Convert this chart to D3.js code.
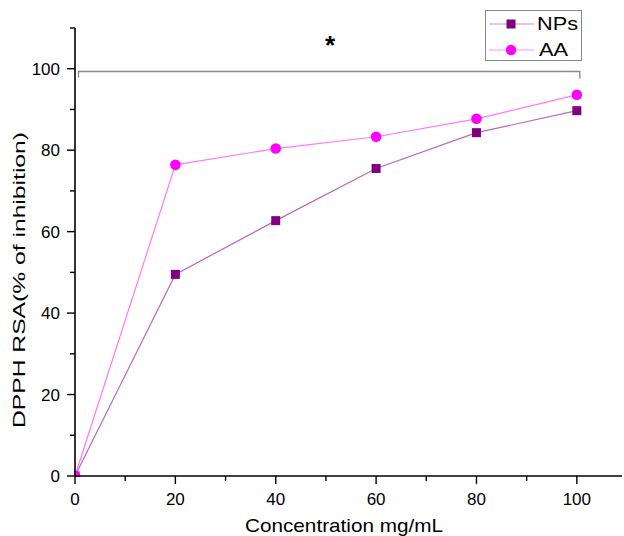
<!doctype html>
<html lang="en">
<head>
<meta charset="utf-8">
<title>DPPH</title>
<style>
  body { margin: 0; background: #fff; }
  svg { font-family: "Liberation Sans", Arial, sans-serif; }
</style>
</head>
<body>
<div id="chart"></div>
<script src="https://cdn.jsdelivr.net/npm/d3@7"></script>
<script>
var conc = [0, 20, 40, 60, 80, 100];
var nps = [0, 49.5, 62.7, 75.5, 84.3, 89.7];
var aa = [0, 76.4, 80.4, 83.3, 87.7, 93.6];
var xTicks = [0, 20, 40, 60, 80, 100];
var yTicks = [0, 20, 40, 60, 80, 100];

(function () {
  var width = 624, height = 536;
  var svg = d3.select("#chart").append("svg")
    .attr("width", width).attr("height", height);

  var x = d3.scaleLinear().domain([0, 109]).range([75, 622]);
  var y = d3.scaleLinear().domain([0, 110]).range([476, 28]);

  svg.append("clipPath").attr("id", "plot")
    .append("rect").attr("x", x(0) - 1).attr("y", 0).attr("width", 560).attr("height", y(0) + 1);

  // axes
  var xAxis = svg.append("g").attr("transform", "translate(0," + y(0) + ")");
  xAxis.selectAll(".major").data(xTicks).enter().append("line")
    .attr("x1", d => x(d)).attr("x2", d => x(d)).attr("y1", 0).attr("y2", 8)
    .attr("stroke", "#000").attr("stroke-width", 1.4);
  xAxis.selectAll(".minor").data(d3.range(10, 110, 20)).enter().append("line")
    .attr("x1", d => x(d)).attr("x2", d => x(d)).attr("y1", 0).attr("y2", 5)
    .attr("stroke", "#000").attr("stroke-width", 1.4);
  xAxis.selectAll("text").data(xTicks).enter().append("text")
    .attr("x", d => x(d)).attr("y", 29).attr("text-anchor", "middle")
    .attr("font-size", 17).text(d => d);

  var yAxis = svg.append("g").attr("transform", "translate(" + x(0) + ",0)");
  yAxis.selectAll(".major").data(yTicks).enter().append("line")
    .attr("y1", d => y(d)).attr("y2", d => y(d)).attr("x1", 0).attr("x2", -8)
    .attr("stroke", "#000").attr("stroke-width", 1.4);
  yAxis.selectAll(".minor").data(d3.range(10, 120, 20)).enter().append("line")
    .attr("y1", d => y(d)).attr("y2", d => y(d)).attr("x1", 0).attr("x2", -5)
    .attr("stroke", "#000").attr("stroke-width", 1.4);
  yAxis.selectAll("text").data(yTicks).enter().append("text")
    .attr("x", -15).attr("y", d => y(d) + 6).attr("text-anchor", "end")
    .attr("font-size", 17).text(d => d);

  svg.append("text").attr("x", 344).attr("y", 532).attr("text-anchor", "middle")
    .attr("font-size", 19).attr("textLength", 198).attr("lengthAdjust", "spacingAndGlyphs")
    .text("Concentration mg/mL");
  svg.append("text").attr("transform", "translate(25,280) rotate(-90)")
    .attr("text-anchor", "middle").attr("font-size", 17)
    .attr("textLength", 296).attr("lengthAdjust", "spacingAndGlyphs")
    .text("DPPH RSA(% of inhibition)");

  // significance bracket
  var by = 71.5;
  svg.append("path")
    .attr("d", "M" + (x(0) + 3.5) + "," + (by + 6) + "V" + by + "H" + (x(100) + 3) + "V" + (by + 7))
    .attr("fill", "none").attr("stroke", "#888").attr("stroke-width", 1.3);
  svg.append("text").attr("x", 330).attr("y", 54).attr("text-anchor", "middle")
    .attr("font-size", 26).attr("font-weight", "bold").text("*");

  var line = d3.line().x(d => x(d[0])).y(d => y(d[1]));
  var npsPts = conc.map((c, i) => [c, nps[i]]);
  var aaPts = conc.map((c, i) => [c, aa[i]]);

  var plot = svg.append("g").attr("clip-path", "url(#plot)");
  plot.append("path").datum(npsPts).attr("d", line)
    .attr("fill", "none").attr("stroke", "#b868b8").attr("stroke-width", 1.2);
  plot.append("path").datum(aaPts).attr("d", line)
    .attr("fill", "none").attr("stroke", "#ff78ff").attr("stroke-width", 1.2);

  plot.selectAll(".sq").data(npsPts).enter().append("rect")
    .attr("x", d => x(d[0]) - 4.5).attr("y", d => y(d[1]) - 4.5)
    .attr("width", 9).attr("height", 9).attr("fill", "#800080");
  plot.selectAll(".dot").data(aaPts).enter().append("circle")
    .attr("cx", d => x(d[0])).attr("cy", d => y(d[1])).attr("r", 5.3)
    .attr("fill", "#ff00ff");

  // axis lines on top
  svg.append("line").attr("x1", x(0)).attr("x2", 622).attr("y1", y(0)).attr("y2", y(0))
    .attr("stroke", "#000").attr("stroke-width", 1.6);
  svg.append("line").attr("x1", x(0)).attr("x2", x(0)).attr("y1", y(0) + 0.8).attr("y2", 28)
    .attr("stroke", "#000").attr("stroke-width", 1.6);

  // legend
  var lg = svg.append("g");
  lg.append("rect").attr("x", 485.5).attr("y", 10.5).attr("width", 96).attr("height", 50)
    .attr("fill", "#fff").attr("stroke", "#888");
  lg.append("line").attr("x1", 489).attr("x2", 534).attr("y1", 24).attr("y2", 24)
    .attr("stroke", "#c890c8").attr("stroke-width", 1.2);
  lg.append("rect").attr("x", 506.5).attr("y", 19.5).attr("width", 9).attr("height", 9).attr("fill", "#800080");
  lg.append("text").attr("x", 537).attr("y", 30).attr("font-size", 18)
    .attr("textLength", 41).attr("lengthAdjust", "spacingAndGlyphs").text("NPs");
  lg.append("line").attr("x1", 489).attr("x2", 534).attr("y1", 50).attr("y2", 50)
    .attr("stroke", "#ff90ff").attr("stroke-width", 1.2);
  lg.append("circle").attr("cx", 511).attr("cy", 50).attr("r", 5.2).attr("fill", "#ff00ff");
  lg.append("text").attr("x", 539).attr("y", 56).attr("font-size", 18)
    .attr("textLength", 29).attr("lengthAdjust", "spacingAndGlyphs").text("AA");
})();
</script>
</body>
</html>
